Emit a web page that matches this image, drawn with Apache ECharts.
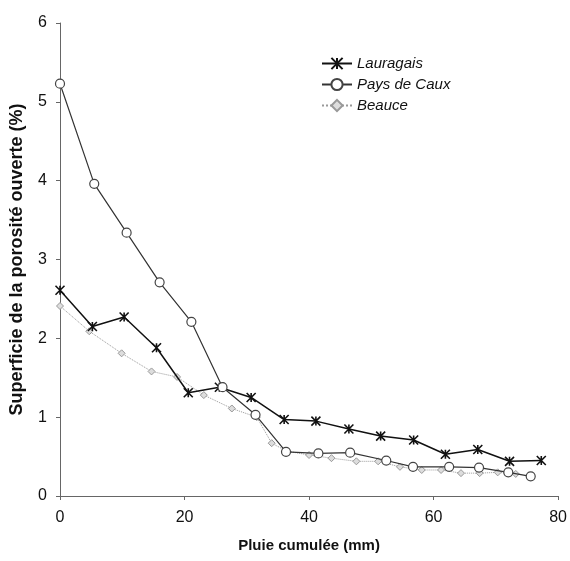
<!DOCTYPE html>
<html><head><meta charset="utf-8">
<script src="https://cdn.jsdelivr.net/npm/echarts@6/dist/echarts.min.js"></script>
<style>html,body{margin:0;padding:0;background:#fff}#c{width:570px;height:561px}</style>
</head><body><div id="c"></div>
<script>
const lauragaisX = [0, 5.2, 10.3, 15.5, 20.6, 25.6, 30.7, 36.0, 41.1, 46.4, 51.5, 56.8, 61.9, 67.1, 72.2, 77.3];
const lauragaisY = [2.61, 2.15, 2.27, 1.88, 1.31, 1.38, 1.25, 0.97, 0.95, 0.85, 0.76, 0.71, 0.53, 0.59, 0.44, 0.45];
const cauxX = [0, 5.5, 10.7, 16.0, 21.1, 26.1, 31.4, 36.3, 41.5, 46.6, 52.4, 56.7, 62.5, 67.3, 72.0, 75.6];
const cauxY = [5.23, 3.96, 3.34, 2.71, 2.21, 1.38, 1.03, 0.56, 0.54, 0.55, 0.45, 0.37, 0.37, 0.36, 0.30, 0.25];
const beauceX = [0, 4.7, 9.9, 14.7, 18.8, 23.1, 27.6, 31.6, 34.0, 36.4, 40.0, 43.6, 47.6, 51.1, 54.6, 58.1, 61.2, 64.4, 67.4, 70.3, 73.2];
const beauceY = [2.41, 2.09, 1.81, 1.58, 1.51, 1.28, 1.11, 1.00, 0.67, 0.57, 0.52, 0.48, 0.44, 0.44, 0.37, 0.33, 0.33, 0.29, 0.29, 0.30, 0.28];
const seriesNames = ['Lauragais', 'Pays de Caux', 'Beauce'];
const xTicks = [0, 20, 40, 60, 80];
const yTicks = [0, 1, 2, 3, 4, 5, 6];

const pair = (xs, ys) => xs.map((x, i) => [x, ys[i]]);
const starSym = 'path://M0,0L10,10M10,0L0,10M5,0L5,10';
const font = 'Liberation Sans, Arial, sans-serif';

const chart = echarts.init(document.getElementById('c'));
chart.setOption({
  animation: false,
  backgroundColor: '#fff',
  grid: { left: 59, right: 11, top: 23, bottom: 65, containLabel: false },
  legend: {
    orient: 'vertical', left: 316, top: 51, itemGap: 6, itemWidth: 30, itemHeight: 14,
    textStyle: { fontFamily: font, fontSize: 15, fontStyle: 'italic', color: '#111' },
    data: seriesNames
  },
  xAxis: {
    type: 'value', min: 0, max: 80, interval: 20,
    name: 'Pluie cumulée (mm)', nameLocation: 'middle', nameGap: 42,
    nameTextStyle: { fontFamily: font, fontSize: 15, fontWeight: 'bold', color: '#111' },
    axisLine: { lineStyle: { color: '#666', width: 1 } },
    axisTick: { inside: false, length: 4, lineStyle: { color: '#666' } },
    axisLabel: { fontFamily: font, fontSize: 16, color: '#111', margin: 14,
      formatter: v => xTicks.includes(v) ? String(v) : '' },
    splitLine: { show: false }
  },
  yAxis: {
    type: 'value', min: 0, max: 6, interval: 1,
    name: 'Superficie de la porosité ouverte (%)', nameLocation: 'middle', nameGap: 34,
    nameTextStyle: { fontFamily: font, fontSize: 18, fontWeight: 'bold', color: '#111' },
    axisLine: { show: true, lineStyle: { color: '#666', width: 1 } },
    axisTick: { show: true, inside: false, length: 4, lineStyle: { color: '#666' } },
    axisLabel: { fontFamily: font, fontSize: 16, color: '#111', margin: 13,
      formatter: v => yTicks.includes(v) ? String(v) : '' },
    splitLine: { show: false }
  },
  series: [
    { name: seriesNames[0], type: 'line', data: pair(lauragaisX, lauragaisY),
      symbol: starSym, symbolSize: [9, 9], showAllSymbol: true,
      lineStyle: { color: '#111', width: 1.5 },
      itemStyle: { color: 'rgba(0,0,0,0)', borderColor: '#111', borderWidth: 1.6 }, z: 3 },
    { name: seriesNames[1], type: 'line', data: pair(cauxX, cauxY),
      symbol: 'circle', symbolSize: 9, showAllSymbol: true,
      lineStyle: { color: '#333', width: 1.2 },
      itemStyle: { color: '#fff', borderColor: '#444', borderWidth: 1.2 }, z: 4 },
    { name: seriesNames[2], type: 'line', data: pair(beauceX, beauceY),
      symbol: 'diamond', symbolSize: 7, showAllSymbol: true,
      lineStyle: { color: '#999', width: 1, type: 'dotted' },
      itemStyle: { color: '#ddd', borderColor: '#999', borderWidth: 1 }, z: 2 }
  ]
});
</script></body></html>
